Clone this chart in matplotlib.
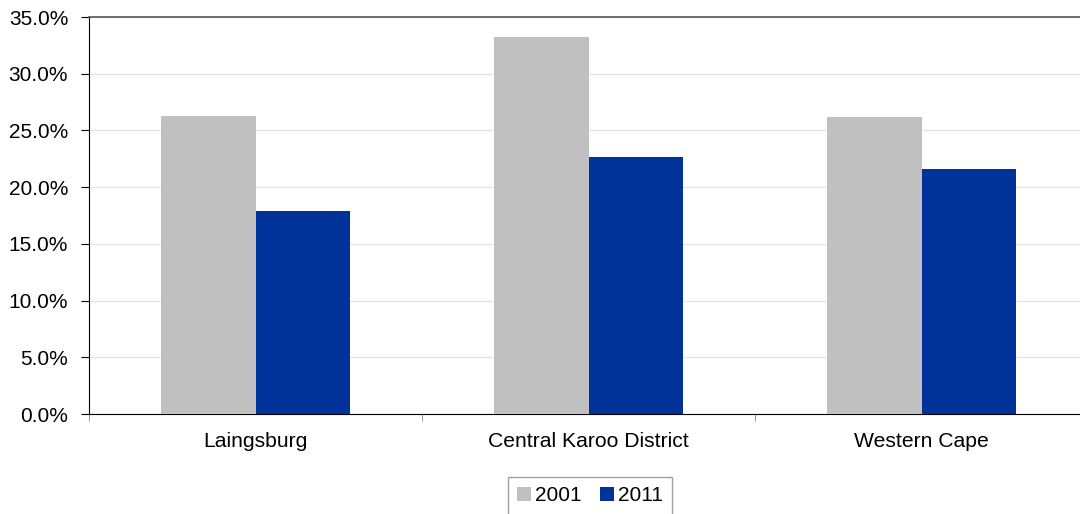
import numpy as np
import matplotlib.pyplot as plt
from matplotlib.ticker import FuncFormatter, FixedLocator

plt.rcParams['font.family'] = ['Liberation Sans', 'DejaVu Sans']

regions = ['Laingsburg', 'Central Karoo District', 'Western Cape']
years = ['2001', '2011']
share_2001 = [26.3, 33.2, 26.2]
share_2011 = [17.9, 22.7, 21.6]
colours = ['#c0c0c0', '#003399']

fig = plt.figure(figsize=(10.8, 5.14), dpi=100)
ax = fig.add_axes([89 / 1080, 1 - 414 / 514, 999 / 1080, 397 / 514])

x = np.arange(len(regions))
w = 0.285
ax.bar(x - w / 2, share_2001, w, color=colours[0], label=years[0], zorder=3)
ax.bar(x + w / 2, share_2011, w, color=colours[1], label=years[1], zorder=3)

ax.set_xlim(-0.5, len(regions) - 0.5)
ax.set_ylim(0, 35)
ax.set_yticks(np.arange(0, 35.1, 5))
ax.yaxis.set_major_formatter(FuncFormatter(lambda v, p: f'{v:.1f}%'))
ax.grid(axis='y', color='#e6e6e6', linewidth=1, zorder=0)
ax.axhline(35, color='#555555', linewidth=1.2, clip_on=False, zorder=4)

# category labels centred, tick marks on the group boundaries
ax.set_xticks(x)
ax.set_xticklabels(regions)
ax.tick_params(axis='x', length=0, pad=13, labelsize=15.2)
ax.xaxis.set_minor_locator(FixedLocator(np.arange(-0.5, len(regions), 1)))
ax.tick_params(axis='x', which='minor', length=5, color='#888888')
ax.tick_params(axis='y', length=6, labelsize=15, pad=9)

for side in ['top', 'right']:
    ax.spines[side].set_visible(False)
ax.spines['left'].set_color('black')
ax.spines['bottom'].set_color('black')

leg = fig.legend(loc='upper center', bbox_to_anchor=(590 / 1080, 1 - 477 / 514), ncol=2,
                 fontsize=15, frameon=True, fancybox=False, edgecolor='#888888',
                 handlelength=0.65, handleheight=0.65, handletextpad=0.2,
                 columnspacing=0.9, borderpad=0.45, borderaxespad=0)
leg.get_frame().set_linewidth(1)

fig.savefig('out.png', dpi=100)
